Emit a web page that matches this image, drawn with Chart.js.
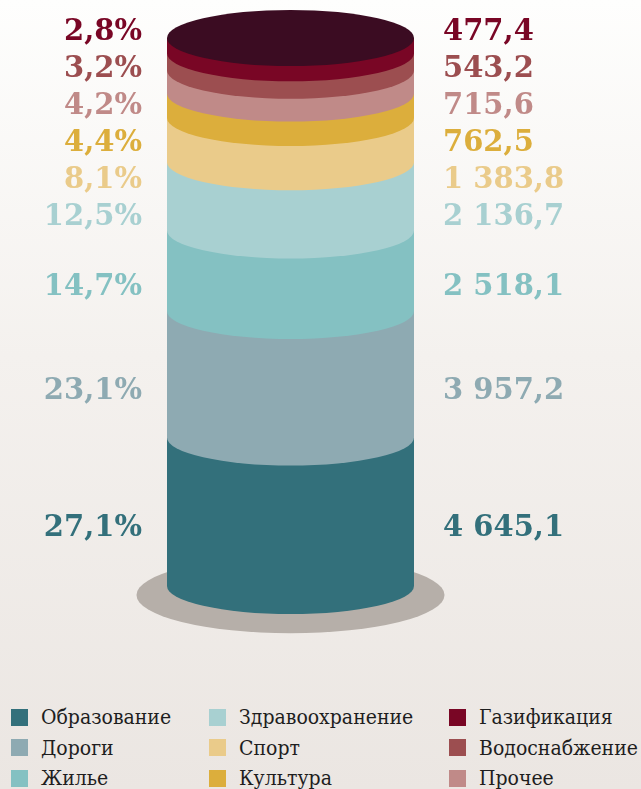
<!DOCTYPE html>
<html lang="ru">
<head>
<meta charset="utf-8">
<title>Расходы</title>
<script src="https://cdn.jsdelivr.net/npm/chart.js@4.4.1/dist/chart.umd.min.js"></script>
<style>
  html, body { margin: 0; padding: 0; }
  body {
    width: 641px; height: 789px; overflow: hidden;
    background: linear-gradient(to bottom, #fefefd 0%, #f4f1ee 45%, #ebe6e2 100%);
    font-family: "DejaVu Serif Condensed", "DejaVu Serif", serif;
  }
  #chart-wrap { position: absolute; left: 0; top: 0; width: 641px; height: 690px; }
  #legend {
    position: absolute; left: 11px; top: 702px;
    display: grid;
    grid-template-columns: 198px 240px 180px;
    grid-template-rows: repeat(3, 30.5px);
    grid-auto-flow: column;
  }
  .item { display: flex; align-items: center; font-size: 21px; color: #1e1e1e; white-space: nowrap; }
  .box { width: 17px; height: 17px; margin-right: 13px; flex: none; }
</style>
</head>
<body>
<div id="chart-wrap"><canvas id="cyl" width="641" height="690"></canvas></div>
<div id="legend"></div>

<script>
// Stack order, bottom to top
const categories = ['Образование', 'Дороги', 'Жилье', 'Здравоохранение', 'Спорт', 'Культура', 'Прочее', 'Водоснабжение', 'Газификация'];
const amounts = [4645.1, 3957.2, 2518.1, 2136.7, 1383.8, 762.5, 715.6, 543.2, 477.4];
const shares = ['27,1%', '23,1%', '14,7%', '12,5%', '8,1%', '4,4%', '4,2%', '3,2%', '2,8%'];

// Legend reads column by column
const legendOrder = ['Образование', 'Дороги', 'Жилье', 'Здравоохранение', 'Спорт', 'Культура', 'Газификация', 'Водоснабжение', 'Прочее'];

const colors = ['#33707b', '#8eaab2', '#84c1c2', '#a8d0d1', '#eacb8a', '#dcae3c', '#c08a88', '#9c4e50', '#790625'];
const capColor = '#3b0c22';
const shadowColor = '#b6afa9';
const TILT = 0.227; // ellipse ry / rx

// "4645.1" -> "4 645,1"
function formatAmount(v) {
    const parts = v.toFixed(1).split('.');
    const intPart = parts[0].replace(/\B(?=(\d{3})+(?!\d))/g, ' ');
    return intPart + ',' + parts[1];
}

function barProps(chart, i) {
    return chart.getDatasetMeta(i).data[0].getProps(['x', 'y', 'base', 'width'], true);
}

// Turns the stacked bar into a cylinder
const cylinderPlugin = {
    id: 'cylinder',
    beforeDatasetsDraw(chart) {
        const ctx = chart.ctx;
        const b = barProps(chart, 0);
        const rx = b.width / 2;
        const ry = rx * TILT;
        ctx.save();
        ctx.fillStyle = shadowColor;
        ctx.beginPath();
        ctx.ellipse(b.x, b.base + 9, rx * 1.247, ry * 1.36, 0, 0, Math.PI * 2);
        ctx.fill();
        ctx.restore();
    },
    afterDatasetsDraw(chart) {
        const ctx = chart.ctx;
        const n = chart.data.datasets.length;
        ctx.save();
        // each band: its side rectangle plus a rounded bottom, drawn bottom to top
        for (let i = 0; i < n; i++) {
            const b = barProps(chart, i);
            const rx = b.width / 2;
            const ry = rx * TILT;
            const topY = i === n - 1 ? b.y : b.y - 1;
            ctx.fillStyle = chart.data.datasets[i].backgroundColor;
            ctx.beginPath();
            ctx.moveTo(b.x - rx, topY);
            ctx.lineTo(b.x - rx, b.base);
            ctx.ellipse(b.x, b.base, rx, ry, 0, Math.PI, 0, true);
            ctx.lineTo(b.x + rx, topY);
            ctx.closePath();
            ctx.fill();
        }
        // top cap
        const top = barProps(chart, n - 1);
        ctx.fillStyle = capColor;
        ctx.beginPath();
        ctx.ellipse(top.x, top.y, top.width / 2, top.width / 2 * TILT, 0, 0, Math.PI * 2);
        ctx.fill();
        ctx.restore();
    },
    afterDraw(chart) {
        const ctx = chart.ctx;
        const n = chart.data.datasets.length;
        const gap = 37;
        ctx.save();
        ctx.font = 'bold 29px "DejaVu Serif", serif';
        ctx.textBaseline = 'middle';
        let prev = null;
        // labels go top-down, pushed apart where the bands are thin
        for (let i = n - 1; i >= 0; i--) {
            const b = barProps(chart, i);
            const rx = b.width / 2;
            const h = b.base - b.y;
            const mid = (b.y + b.base) / 2 + rx * TILT * 0.6 * Math.min(1, h / 60);
            const y = prev === null ? chart.chartArea.top - 6 : Math.max(mid, prev + gap);
            prev = y;
            ctx.fillStyle = colors[i];
            ctx.textAlign = 'right';
            ctx.fillText(shares[i], b.x - rx - 25, y);
            ctx.textAlign = 'left';
            ctx.fillText(formatAmount(amounts[i]), b.x + rx + 29, y);
        }
        ctx.restore();
    }
};

const total = amounts.reduce((s, v) => s + v, 0);

const chart = new Chart(document.getElementById('cyl'), {
    type: 'bar',
    data: {
        labels: [''],
        datasets: categories.map((name, i) => ({
            label: name,
            data: [amounts[i]],
            backgroundColor: colors[i],
            borderWidth: 0,
            barPercentage: 1,
            categoryPercentage: 1
        }))
    },
    options: {
        responsive: false,
        animation: false,
        devicePixelRatio: 1,
        layout: { padding: { left: 167, right: 227, top: 38, bottom: 104 } },
        scales: {
            x: { stacked: true, display: false },
            y: { stacked: true, display: false, min: 0, max: total }
        },
        plugins: {
            legend: { display: false },
            tooltip: { enabled: false }
        }
    },
    plugins: [cylinderPlugin]
});

// HTML legend built from the chart datasets
const legendEl = document.getElementById('legend');
legendOrder.forEach(name => {
    const ds = chart.data.datasets.find(d => d.label === name);
    const item = document.createElement('div');
    item.className = 'item';
    item.innerHTML = `<span class="box" style="background:${ds.backgroundColor}"></span><span>${name}</span>`;
    legendEl.appendChild(item);
});
</script>
</body>
</html>
